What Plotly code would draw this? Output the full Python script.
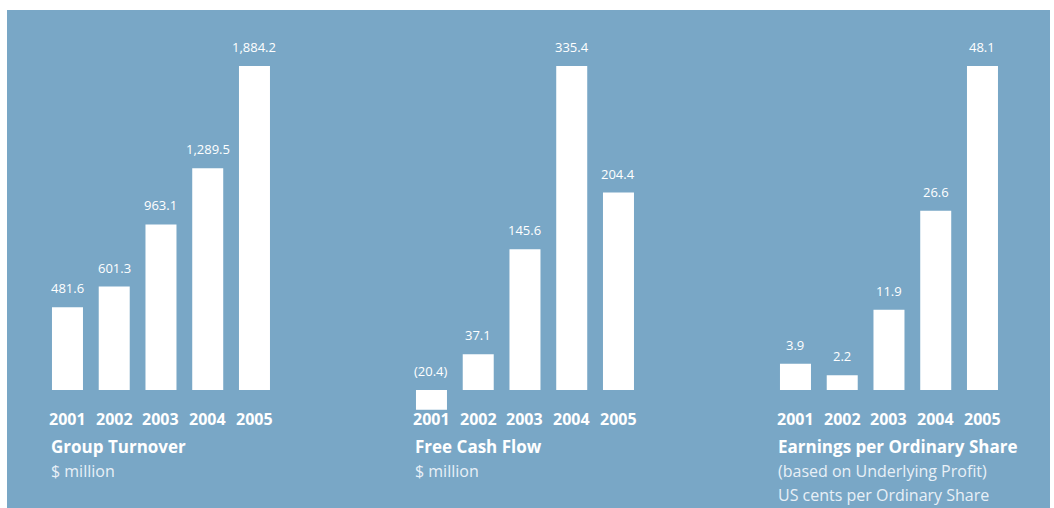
import plotly.graph_objects as go

# Financial highlights 2001-2005
years = ["2001", "2002", "2003", "2004", "2005"]
turnover = [481.6, 601.3, 963.1, 1289.5, 1884.2]          # $ million
free_cash_flow = [-20.4, 37.1, 145.6, 335.4, 204.4]       # $ million
eps = [3.9, 2.2, 11.9, 26.6, 48.1]                         # US cents per share

turnover_title = "Group Turnover"
turnover_sub = ["$ million"]
fcf_title = "Free Cash Flow"
fcf_sub = ["$ million"]
eps_title = "Earnings per Ordinary Share"
eps_sub = ["(based on Underlying Profit)", "US cents per Ordinary Share"]

W, H = 1054, 508
BLUE = "rgb(121,167,198)"
FONT = "Open Sans"

BASE_PX = 390      # pixel row of the zero line
TOP_PX = 66        # pixel row reached by the tallest bar
BOTTOM_PX = 420    # bottom of each plotting area
SLOT = 46.75       # width of one category slot
BAR_W = 31


def fy(px):
    """Pixel row -> paper fraction."""
    return (H - px) / H


def fmt(v):
    s = f"{abs(v):,.1f}"
    return f"({s})" if v < 0 else s


panels = [
    (turnover, turnover_title, turnover_sub, 44.1, 49),
    (free_cash_flow, fcf_title, fcf_sub, 408.1, 413),
    (eps, eps_title, eps_sub, 772.1, 776),
]

fig = go.Figure()
annotations = []
layout_axes = {}

for i, (vals, title, subs, x0, text_x) in enumerate(panels, start=1):
    xa = "x" if i == 1 else f"x{i}"
    ya = "y" if i == 1 else f"y{i}"
    fig.add_trace(go.Bar(
        x=years, y=vals, xaxis=xa, yaxis=ya,
        marker=dict(color="white", line=dict(width=0)),
        hoverinfo="skip", showlegend=False,
    ))
    vmax = max(vals)
    px_per_unit = (BASE_PX - TOP_PX) / vmax
    ymin = -(BOTTOM_PX - BASE_PX) / px_per_unit
    key = "" if i == 1 else str(i)
    layout_axes[f"xaxis{key}"] = dict(
        domain=[x0 / W, (x0 + SLOT * len(years)) / W],
        anchor=ya, type="category", range=[-0.5, len(years) - 0.5],
        showgrid=False, zeroline=False, showticklabels=False,
        showline=False, ticks="", fixedrange=True,
    )
    layout_axes[f"yaxis{key}"] = dict(
        domain=[fy(BOTTOM_PX), fy(TOP_PX)],
        anchor=xa, range=[ymin, vmax],
        showgrid=False, zeroline=False, showticklabels=False,
        showline=False, ticks="", fixedrange=True,
    )

    # value labels above each bar (negative values sit above the zero line)
    for k, (yr, v) in enumerate(zip(years, vals)):
        annotations.append(dict(
            x=k, y=max(v, 0), xref=xa, yref=ya,
            text=fmt(v), showarrow=False,
            xanchor="center", yanchor="bottom", yshift=8,
            font=dict(family=FONT, size=13, color="white"),
        ))
        annotations.append(dict(
            x=k, y=fy(418.5), xref=xa, yref="paper",
            text=f"<b>{yr}</b>", showarrow=False,
            xanchor="center", yanchor="middle",
            font=dict(family=FONT, size=16, color="white"),
        ))

    # panel caption
    annotations.append(dict(
        x=text_x / W, y=fy(446.5), xref="paper", yref="paper",
        text=f"<b>{title}</b>", showarrow=False,
        xanchor="left", yanchor="middle",
        font=dict(family=FONT, size=17, color="white"),
    ))
    for j, s in enumerate(subs):
        annotations.append(dict(
            x=text_x / W, y=fy(470.5 + 24 * j), xref="paper", yref="paper",
            text=s, showarrow=False,
            xanchor="left", yanchor="middle",
            font=dict(family=FONT, size=16, color="rgb(232,240,247)"),
        ))

fig.update_layout(
    width=W, height=H,
    margin=dict(l=0, r=0, t=0, b=0),
    paper_bgcolor="white",
    plot_bgcolor="rgba(0,0,0,0)",
    bargap=1 - BAR_W / SLOT,
    annotations=annotations,
    shapes=[dict(
        type="rect", xref="paper", yref="paper",
        x0=7 / W, x1=1050 / W, y0=0, y1=fy(10),
        fillcolor=BLUE, line=dict(width=0), layer="below",
    )],
    **layout_axes,
)

fig.write_html("out.html")
